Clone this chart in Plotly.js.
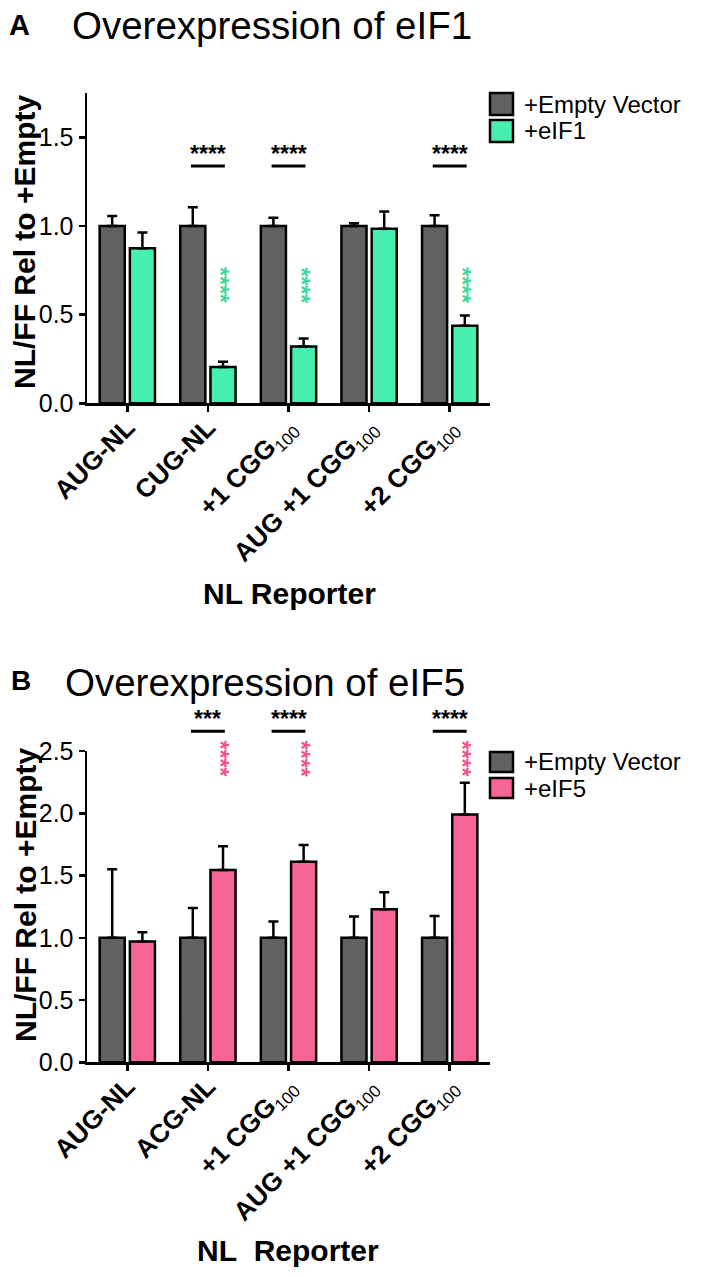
<!DOCTYPE html>
<html>
<head>
<meta charset="utf-8">
<script src="https://cdn.plot.ly/plotly-3.0.1.min.js"></script>
<style>html,body{margin:0;padding:0;background:#fff;}#chart{width:709px;height:1277px;}</style>
</head>
<body>
<div id="chart"></div>
<script>
// ---------------- DATA ----------------
const positions = [0, 1, 2, 3, 4];
const tickMainA = ['AUG-NL', 'CUG-NL', '+1 CGG', 'AUG +1 CGG', '+2 CGG'];
const tickSubA  = ['', '', '100', '100', '100'];
const tickMainB = ['AUG-NL', 'ACG-NL', '+1 CGG', 'AUG +1 CGG', '+2 CGG'];
const tickSubB  = ['', '', '100', '100', '100'];

const emptyA    = [1.0, 1.0, 1.0, 1.0, 1.0];
const emptyErrA = [0.056, 0.105, 0.046, 0.015, 0.061];
const eif1      = [0.875, 0.205, 0.32, 0.985, 0.437];
const eif1Err   = [0.088, 0.030, 0.045, 0.097, 0.058];

const emptyB    = [1.0, 1.0, 1.0, 1.0, 1.0];
const emptyErrB = [0.55, 0.24, 0.13, 0.17, 0.175];
const eif5      = [0.97, 1.545, 1.61, 1.23, 1.99];
const eif5Err   = [0.075, 0.19, 0.135, 0.135, 0.255];

const sigCatsA   = [1, 2, 4];
const sigLabelsA = ['****', '****', '****'];
const sigLineA   = 1.338;
const vStarA     = 0.667;

const sigCatsB   = [1, 2, 4];
const sigLabelsB = ['***', '****', '****'];
const sigLineB   = 2.659;
const vStarB     = 2.44;

const yMaxA = 1.75, yMaxB = 2.5;

// ---------------- STYLE ----------------
const FONT = 'Liberation Sans, Arial, Helvetica, sans-serif';
const GRAY = '#616161', TEAL = '#46EFAF', PINK = '#F76597';
const TEAL_STAR = '#3CD99B', PINK_STAR = '#F0528C';
const W = 709, H = 1277;
const px = v => v / W, py = v => 1 - v / H;

function tickText(main, sub) {
  return main.map((m, i) => sub[i] ? m + '<sub><span style="font-weight:normal;font-size:17px">' + sub[i] + '</span></sub>' : m);
}

function barTrace(y, err, color, name, xa, ya) {
  return {
    type: 'bar', x: positions, y: y, name: name, xaxis: xa, yaxis: ya,
    marker: {color: color, line: {color: '#000', width: 2.5}},
    error_y: {type: 'data', symmetric: false, array: err, arrayminus: err.map(() => 0),
              color: '#000', thickness: 2.5, width: 5},
    hoverinfo: 'skip'
  };
}

const data = [
  barTrace(emptyA, emptyErrA, GRAY, '+Empty Vector', 'x', 'y'),
  barTrace(eif1, eif1Err, TEAL, '+eIF1', 'x', 'y'),
  barTrace(emptyB, emptyErrB, GRAY, '+Empty Vector', 'x2', 'y2'),
  barTrace(eif5, eif5Err, PINK, '+eIF5', 'x2', 'y2')
];

const bargap = 0.25;
const pairOffset = (1 - bargap) / 4;

function xAxis(labels, anchor, domain) {
  return {
    domain: domain, anchor: anchor, range: [-0.5, 4.5],
    tickmode: 'array', tickvals: positions, ticktext: labels, tickangle: -45,
    showline: true, linecolor: '#000', linewidth: 2.5,
    ticks: 'outside', ticklen: 6, tickwidth: 2.5, tickcolor: '#000', ticklabelstandoff: -10,
    tickfont: {family: FONT, size: 26, color: '#000', weight: 'bold'},
    showgrid: false, zeroline: false, automargin: false, fixedrange: true
  };
}
function yAxis(max, anchor, domain) {
  return {
    domain: domain, anchor: anchor, range: [0, max], tick0: 0, dtick: 0.5, tickformat: '.1f',
    showline: true, linecolor: '#000', linewidth: 2.5,
    ticks: 'outside', ticklen: 6, tickwidth: 2.5, tickcolor: '#000',
    tickfont: {family: FONT, size: 25, color: '#000'},
    showgrid: false, zeroline: false, automargin: false, fixedrange: true
  };
}

const xDom = [px(87), px(490)];
const shapes = [];
const annotations = [];

function addSig(cats, labels, lineY, vStarY, yMax, xref, yref, starColor) {
  cats.forEach((c, i) => {
    shapes.push({type: 'line', xref: xref, yref: yref + ' domain',
      x0: c - 0.21, x1: c + 0.21, y0: lineY / yMax, y1: lineY / yMax,
      line: {color: '#000', width: 3}});
    annotations.push({xref: xref, yref: yref + ' domain', x: c, y: lineY / yMax,
      yanchor: 'bottom', xanchor: 'center', yshift: -3, showarrow: false, text: labels[i],
      font: {family: FONT, size: 23, color: '#000', weight: 'bold'}});
    annotations.push({xref: xref, yref: yref + ' domain', x: c + pairOffset, y: vStarY / yMax,
      xanchor: 'center', yanchor: 'middle', textangle: 90, xshift: -3, showarrow: false, text: '****',
      font: {family: FONT, size: 23, color: starColor, weight: 'bold'}});
  });
}
addSig(sigCatsA, sigLabelsA, sigLineA, vStarA, yMaxA, 'x', 'y', TEAL_STAR);
addSig(sigCatsB, sigLabelsB, sigLineB, vStarB, yMaxB, 'x2', 'y2', PINK_STAR);

function addLegend(top1, top2, size, color2, label2) {
  [[top1, GRAY, '+Empty Vector'], [top2, color2, label2]].forEach(([t, col, lab]) => {
    shapes.push({type: 'rect', xref: 'paper', yref: 'paper', x0: px(490), x1: px(513),
      y0: py(t + size), y1: py(t), fillcolor: col, line: {color: '#000', width: 2.5}});
    annotations.push({xref: 'paper', yref: 'paper', x: px(523), y: py(t + size / 2),
      xanchor: 'left', yanchor: 'middle', showarrow: false, text: lab, borderpad: 0,
      font: {family: FONT, size: 24, color: '#000'}});
  });
}
addLegend(93, 120, 22, TEAL, '+eIF1');
addLegend(752, 778, 20, PINK, '+eIF5');

function bold(size) { return {family: FONT, size: size, color: '#000', weight: 'bold'}; }
function txt(text, x, y, size, opts) {
  annotations.push(Object.assign({xref: 'paper', yref: 'paper', x: px(x), y: py(y),
    showarrow: false, text: text, xanchor: 'center', yanchor: 'middle',
    font: {family: FONT, size: size, color: '#000'}}, opts || {}));
}
txt('A', 19, 25, 29, {font: bold(29)});
txt('Overexpression of eIF1', 70, 25, 38.5, {xanchor: 'left'});
txt('B', 21, 681, 28, {font: bold(28)});
txt('Overexpression of eIF5', 63, 682, 38.5, {xanchor: 'left'});
txt('NL/FF Rel to +Empty', 25, 242, 30, {textangle: -90, font: bold(30)});
txt('NL/FF Rel to +Empty', 25, 895, 30, {textangle: -90, font: bold(30)});
txt('NL Reporter', 289, 593, 30, {font: bold(30)});
txt('NL\u00a0\u00a0Reporter', 288, 1250, 30, {font: bold(30)});

const layout = {
  width: W, height: H, margin: {l: 0, r: 0, t: 0, b: 0},
  paper_bgcolor: '#fff', plot_bgcolor: '#fff', showlegend: false,
  barmode: 'group', bargap: bargap, bargroupgap: 0.17,
  font: {family: FONT, color: '#000'},
  xaxis: xAxis(tickText(tickMainA, tickSubA), 'y', xDom),
  yaxis: yAxis(yMaxA, 'x', [py(403.3), py(93)]),
  xaxis2: xAxis(tickText(tickMainB, tickSubB), 'y2', xDom),
  yaxis2: yAxis(yMaxB, 'x2', [py(1062.3), py(751)]),
  shapes: shapes, annotations: annotations
};

Plotly.newPlot('chart', data, layout, {staticPlot: true, displayModeBar: false});
</script>
</body>
</html>
